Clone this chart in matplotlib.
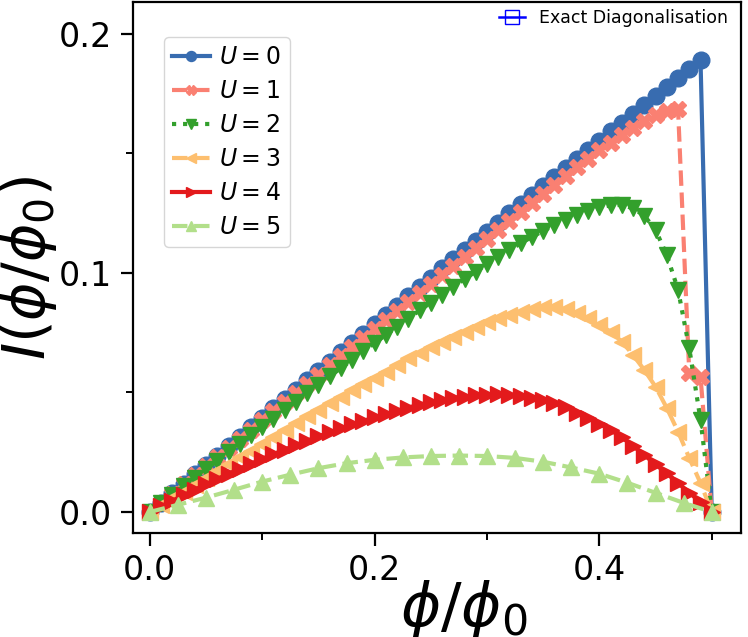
import numpy as np
import matplotlib
matplotlib.use("Agg")
import matplotlib.pyplot as plt
from matplotlib.ticker import MultipleLocator

# flux grid (U = 0..4 sampled every 0.01, U = 5 every 0.025)
phi = [round(0.01 * k, 2) for k in range(51)]
phi_u5 = [0.0, 0.025, 0.05, 0.075, 0.1, 0.125, 0.15, 0.175, 0.2, 0.225, 0.25,
          0.275, 0.3, 0.325, 0.35, 0.375, 0.4, 0.425, 0.45, 0.475, 0.5]

I_u0 = [0.0, 0.0039, 0.0079, 0.0118, 0.0158, 0.0197, 0.0236, 0.0276, 0.0315, 0.0354,
        0.0394, 0.0433, 0.0472, 0.0512, 0.0551, 0.0590, 0.0629, 0.0668, 0.0707, 0.0746,
        0.0785, 0.0824, 0.0863, 0.0902, 0.0941, 0.0980, 0.1019, 0.1057, 0.1096, 0.1134,
        0.1173, 0.1211, 0.1250, 0.1288, 0.1326, 0.1364, 0.1403, 0.1441, 0.1479, 0.1516,
        0.1554, 0.1592, 0.1629, 0.1667, 0.1704, 0.1742, 0.1779, 0.1816, 0.1853, 0.1890,
        0.0]
I_u1 = [0.0, 0.0038, 0.0077, 0.0115, 0.0154, 0.0192, 0.0230, 0.0269, 0.0307, 0.0345,
        0.0384, 0.0422, 0.0461, 0.0499, 0.0537, 0.0575, 0.0613, 0.0652, 0.0690, 0.0728,
        0.0766, 0.0804, 0.0842, 0.0880, 0.0918, 0.0955, 0.0993, 0.1031, 0.1068, 0.1106,
        0.1144, 0.1181, 0.1219, 0.1256, 0.1293, 0.1330, 0.1367, 0.1405, 0.1442, 0.1478,
        0.1515, 0.1545, 0.1578, 0.1608, 0.1636, 0.1660, 0.1678, 0.1688, 0.0580, 0.0565,
        0.0]
I_u2 = [0.0, 0.0036, 0.0072, 0.0107, 0.0143, 0.0178, 0.0214, 0.0249, 0.0285, 0.0320,
        0.0356, 0.0391, 0.0427, 0.0462, 0.0497, 0.0532, 0.0567, 0.0602, 0.0637, 0.0672,
        0.0706, 0.0741, 0.0775, 0.0809, 0.0843, 0.0876, 0.0909, 0.0942, 0.0974, 0.1006,
        0.1037, 0.1067, 0.1096, 0.1124, 0.1151, 0.1176, 0.1200, 0.1222, 0.1242, 0.1259,
        0.1274, 0.1283, 0.1285, 0.1270, 0.1240, 0.1180, 0.1075, 0.0930, 0.0685, 0.0385,
        0.0]
I_u3 = [0.0, 0.0028, 0.0057, 0.0085, 0.0114, 0.0142, 0.0171, 0.0199, 0.0228, 0.0257,
        0.0286, 0.0315, 0.0344, 0.0372, 0.0400, 0.0428, 0.0456, 0.0483, 0.0510, 0.0536,
        0.0562, 0.0587, 0.0615, 0.0643, 0.0664, 0.0692, 0.0713, 0.0734, 0.0755, 0.0775,
        0.0796, 0.0810, 0.0824, 0.0838, 0.0848, 0.0856, 0.0856, 0.0848, 0.0831, 0.0810,
        0.0782, 0.0755, 0.0713, 0.0657, 0.0594, 0.0524, 0.0435, 0.0336, 0.0226, 0.0121,
        0.0]
I_u4 = [0.0, 0.0024, 0.0047, 0.0070, 0.0093, 0.0116, 0.0138, 0.0160, 0.0181, 0.0202,
        0.0222, 0.0242, 0.0261, 0.0280, 0.0298, 0.0316, 0.0333, 0.0350, 0.0366, 0.0381,
        0.0396, 0.0410, 0.0424, 0.0437, 0.0449, 0.0460, 0.0469, 0.0477, 0.0483, 0.0488,
        0.0491, 0.0492, 0.0490, 0.0485, 0.0477, 0.0467, 0.0454, 0.0438, 0.0416, 0.0393,
        0.0369, 0.0343, 0.0312, 0.0276, 0.0238, 0.0199, 0.0161, 0.0121, 0.0081, 0.0040,
        0.0]
I_u5 = [0.0, 0.0030, 0.0060, 0.0093, 0.0127, 0.0156, 0.0183, 0.0204, 0.0218, 0.0228,
        0.0234, 0.0236, 0.0234, 0.0226, 0.0210, 0.0186, 0.0160, 0.0122, 0.0080, 0.0038,
        0.0]

labels = [r"$U = 0$", r"$U = 1$", r"$U = 2$", r"$U = 3$", r"$U = 4$", r"$U = 5$"]
colors = ["#386cb0", "#fa8072", "#33a02c", "#fdbf6f", "#e31a1c", "#b2df8a"]
markers = ["o", "X", "v", "<", ">", "^"]
styles = ["-", "--", ":", "--", "-", "--"]

fig = plt.figure(figsize=(7.48, 6.37), dpi=100)
ax = fig.add_axes([0.1778, 0.1633, 0.8128, 0.8336])

series = [(phi, I_u0), (phi, I_u1), (phi, I_u2), (phi, I_u3), (phi, I_u4), (phi_u5, I_u5)]
for (x, y), lab, c, m, ls in zip(series, labels, colors, markers, styles):
    ax.plot(x, y, color=c, marker=m, linestyle=ls, linewidth=3, markersize=12,
            label=lab)

leg1 = ax.legend(loc="upper left", bbox_to_anchor=(0.051, 0.934), borderaxespad=0,
                 fontsize=17, handlelength=1.6, handletextpad=0.4, markerscale=0.6,
                 labelspacing=0.42, borderpad=0.35)
ax.add_artist(leg1)

# exact diagonalisation legend entry (top right)
ed, = ax.plot([], [], color="blue", marker="s", mfc="none", mec="blue",
              linewidth=1.8, markersize=10)
ax.legend([ed], ["Exact Diagonalisation"], loc="upper right",
          bbox_to_anchor=(0.99, 1.0), borderaxespad=0, frameon=False,
          fontsize=12.5, handlelength=1.5, handletextpad=0.8)

ax.set_xlim(-0.015, 0.526)
ax.set_ylim(-0.0088, 0.2134)
ax.xaxis.set_major_locator(MultipleLocator(0.2))
ax.xaxis.set_minor_locator(MultipleLocator(0.1))
ax.yaxis.set_major_locator(MultipleLocator(0.1))
ax.yaxis.set_minor_locator(MultipleLocator(0.05))
ax.tick_params(which="major", length=9, width=1.6, labelsize=24, pad=6)
ax.tick_params(which="minor", length=5, width=1.4)
for s in ax.spines.values():
    s.set_linewidth(1.6)

ax.set_xlabel(r"$\phi/\phi_0$", fontsize=44)
ax.set_ylabel(r"$I(\phi/\phi_0)$", fontsize=42)
ax.xaxis.set_label_coords(0.544, -0.085)
ax.yaxis.set_label_coords(-0.122, 0.5)

fig.savefig("out.png", dpi=100)
